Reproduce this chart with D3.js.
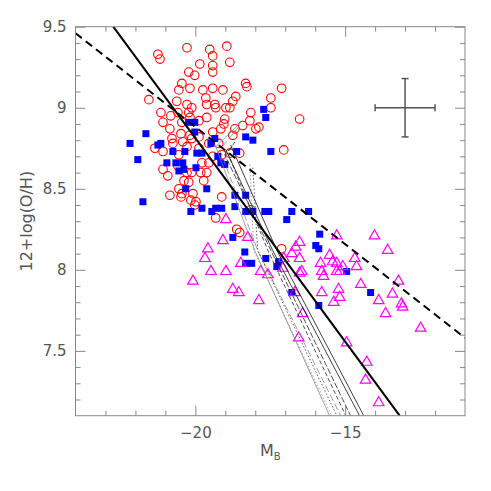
<!DOCTYPE html>
<html>
<head>
<meta charset="utf-8">
<script src="https://cdn.jsdelivr.net/npm/d3@7"></script>
<style>
  html, body { margin: 0; padding: 0; background: #fff; }
  text { font-family: "DejaVu Sans", sans-serif; fill: #555; }
</style>
</head>
<body>
<div id="chart"></div>
<script>

// red open circles  [M_B, 12+log(O/H)]
const circleData = [
  [-21.25, 9.33], [-21.18, 9.30], [-20.28, 9.37], [-19.52, 9.36], [-18.95, 9.38],
  [-19.42, 9.32], [-19.85, 9.27], [-18.85, 9.28], [-20.22, 9.22], [-19.42, 9.26],
  [-19.42, 9.22], [-20.02, 9.20], [-20.45, 9.15], [-20.55, 9.11], [-20.18, 9.12],
  [-19.75, 9.11], [-19.42, 9.12], [-19.08, 9.11], [-18.32, 9.15], [-18.28, 9.13],
  [-21.55, 9.05], [-20.62, 9.04], [-19.65, 9.06], [-18.65, 9.07], [-18.75, 9.04],
  [-19.35, 9.02], [-19.32, 9.00], [-19.62, 9.02], [-20.28, 9.02], [-20.12, 9.00],
  [-18.98, 9.00], [-18.85, 9.00], [-18.15, 8.97], [-21.15, 8.97], [-20.82, 8.95],
  [-20.58, 8.97], [-20.22, 8.97], [-20.18, 8.94], [-19.88, 8.92], [-19.62, 8.94],
  [-19.02, 8.93], [-21.08, 8.91], [-20.85, 8.87], [-20.45, 8.91], [-19.05, 8.90],
  [-18.68, 8.87], [-20.48, 8.84], [-20.18, 8.83], [-20.78, 8.81], [-19.42, 8.85],
  [-19.15, 8.87], [-18.42, 8.89], [-18.75, 8.83], [-20.75, 8.78], [-20.42, 8.79],
  [-20.12, 8.81], [-19.88, 8.82], [-20.28, 8.76], [-21.35, 8.75], [-21.08, 8.73],
  [-20.55, 8.71], [-19.88, 8.75], [-19.55, 8.78], [-19.22, 8.78], [-19.12, 8.71],
  [-18.85, 8.72], [-18.52, 8.72], [-19.78, 8.66], [-19.55, 8.66], [-20.58, 8.64],
  [-20.28, 8.60], [-20.12, 8.60], [-19.82, 8.60], [-19.62, 8.60], [-21.08, 8.62],
  [-20.92, 8.58], [-20.38, 8.55], [-20.22, 8.54], [-20.55, 8.50], [-20.85, 8.46],
  [-20.45, 8.47], [-20.48, 8.45], [-20.08, 8.47], [-20.15, 8.43], [-19.98, 8.42],
  [-20.02, 8.40], [-19.12, 8.45], [-19.32, 8.32], [-18.62, 8.25], [-18.52, 8.23],
  [-18.18, 8.92], [-17.98, 8.87], [-17.88, 8.88], [-17.12, 9.12], [-17.48, 9.06],
  [-17.48, 9.00], [-16.52, 8.93], [-17.05, 8.74], [-18.15, 8.37], [-17.12, 8.13],
  [-19.72, 8.55], [-19.42, 8.70]
];

// blue filled squares
const squareData = [
  [-22.18, 8.78], [-21.92, 8.68], [-21.65, 8.84], [-21.25, 8.77], [-21.15, 8.78],
  [-20.95, 8.66], [-20.75, 8.73], [-20.65, 8.66], [-20.42, 8.66], [-20.55, 8.61],
  [-20.38, 8.62], [-20.35, 8.73], [-20.22, 8.91], [-20.02, 8.91], [-20.02, 8.85],
  [-19.95, 8.72], [-19.78, 8.72], [-19.98, 8.63], [-19.62, 8.50], [-20.32, 8.50],
  [-20.15, 8.36], [-19.78, 8.38], [-19.45, 8.36], [-19.32, 8.38], [-19.12, 8.38],
  [-21.75, 8.42], [-19.48, 8.78], [-19.35, 8.81], [-19.25, 8.70], [-19.02, 8.65],
  [-18.62, 8.73], [-18.32, 8.82], [-18.75, 8.20], [-18.68, 8.39], [-18.68, 8.46],
  [-18.32, 8.46], [-18.32, 8.36], [-18.32, 8.04], [-17.72, 8.99], [-17.65, 8.94],
  [-18.08, 8.80], [-17.48, 8.73], [-18.08, 8.36], [-17.68, 8.36], [-17.55, 8.36],
  [-16.78, 8.36], [-16.95, 8.31], [-16.22, 8.36], [-15.85, 8.22], [-15.98, 8.15],
  [-15.88, 8.13], [-18.12, 8.04], [-17.65, 8.07], [-17.22, 8.05], [-17.28, 8.02],
  [-16.78, 7.86], [-15.88, 7.78], [-14.95, 7.99], [-14.15, 7.86], [-19.15, 8.66],
  [-18.35, 8.11]
];

// magenta open triangles
const triangleData = [
  [-18.98, 8.31], [-19.08, 8.18], [-19.58, 8.13], [-18.25, 8.20], [-19.68, 8.07],
  [-19.48, 7.99], [-20.08, 7.93], [-18.98, 7.99], [-18.75, 7.88], [-18.55, 7.86],
  [-18.48, 8.04], [-16.52, 8.17], [-16.65, 8.14], [-15.28, 8.21], [-14.02, 8.21],
  [-13.58, 8.12], [-16.78, 8.10], [-16.52, 8.07], [-16.45, 7.99], [-16.52, 7.98],
  [-17.05, 8.07], [-17.08, 8.01], [-17.58, 7.97], [-17.82, 7.99], [-17.88, 7.81],
  [-16.68, 7.86], [-16.42, 7.73], [-16.55, 7.58], [-15.52, 8.09], [-15.82, 8.04],
  [-15.78, 7.99], [-15.72, 7.96], [-15.42, 8.05], [-15.28, 8.04], [-15.08, 8.02],
  [-15.28, 7.99], [-15.18, 7.99], [-14.68, 8.07], [-14.62, 8.02], [-15.78, 7.86],
  [-15.22, 7.88], [-15.18, 7.83], [-15.38, 7.80], [-14.95, 7.55], [-14.48, 7.91],
  [-13.88, 7.81], [-13.65, 7.73], [-13.42, 7.85], [-13.12, 7.79], [-13.08, 7.77],
  [-13.22, 7.93], [-12.48, 7.64], [-14.28, 7.43], [-14.32, 7.32], [-13.88, 7.18]
];

// fitted relations
const thickSolidLine = [[-22.74, 9.5], [-13.18, 7.1]];
const thickDashedLine = [[-24, 9.46], [-11, 7.58]];

// thin model tracks
const trackLines = [
  [[-18.42, 8.92], [-19.32, 8.76], [-18.02, 8.12], [-15.52, 7.10]],
  [[-18.52, 8.89], [-19.18, 8.74], [-17.92, 8.12], [-15.15, 7.10]],
  [[-18.18, 8.65], [-18.05, 8.12], [-15.45, 7.10]],
  [[-18.08, 8.63], [-17.92, 8.12], [-15.28, 7.10]],
  [[-18.68, 8.79], [-18.92, 8.72], [-17.58, 8.12], [-14.98, 7.10]],
  [[-18.78, 8.76], [-19.02, 8.71], [-17.48, 8.12], [-14.82, 7.10]],
  [[-18.98, 8.74], [-17.42, 8.12], [-14.52, 7.10]],
  [[-18.82, 8.77], [-17.28, 8.12], [-14.38, 7.10]]
];
const trackColors = ["#888", "#888", "#888", "#333", "#222", "#222", "#111", "#111"];
const trackDashes = [null, "7,3", "1.5,2", "1.5,2", "4,2.5", "6,2", null, null];

// typical error bar
const errCenter = [-13, 9.0];
const errX = 1.0;
const errY = 0.18;

const xTicksMajor = [-20, -15];
const yTicksMajor = [7.5, 8, 8.5, 9, 9.5];

let W = 491, H = 491;
let mLeft = 75.5, mRight = 465, mTop = 26.7, mBottom = 415.7;

let svg = d3.select("#chart").append("svg")
  .attr("width", W)
  .attr("height", H);

let x = d3.scaleLinear().domain([-24, -11]).range([mLeft, mRight]);
let y = d3.scaleLinear().domain([7.1, 9.5]).range([mBottom, mTop]);

svg.append("defs").append("clipPath").attr("id", "clip")
  .append("rect")
  .attr("x", mLeft).attr("y", mTop)
  .attr("width", mRight - mLeft).attr("height", mBottom - mTop);

let plot = svg.append("g").attr("clip-path", "url(#clip)");

// circles
plot.selectAll("circle.pt").data(circleData).enter()
  .append("circle")
  .attr("class", "pt")
  .attr("cx", d => x(d[0]))
  .attr("cy", d => y(d[1]))
  .attr("r", 4.3)
  .attr("fill", "none")
  .attr("stroke", "#ff0000")
  .attr("stroke-width", 1.1);

// squares
let sq = 7;
plot.selectAll("rect.pt").data(squareData).enter()
  .append("rect")
  .attr("class", "pt")
  .attr("x", d => x(d[0]) - sq / 2)
  .attr("y", d => y(d[1]) - sq / 2)
  .attr("width", sq)
  .attr("height", sq)
  .attr("fill", "#0000ff");

// triangles
let tri = d3.symbol().type(d3.symbolTriangle).size(48);
plot.selectAll("path.tri").data(triangleData).enter()
  .append("path")
  .attr("class", "tri")
  .attr("d", tri)
  .attr("transform", d => `translate(${x(d[0])},${y(d[1])})`)
  .attr("fill", "none")
  .attr("stroke", "#ff00ff")
  .attr("stroke-width", 1.2);

let line = d3.line().x(d => x(d[0])).y(d => y(d[1]));

// model tracks
trackLines.forEach((t, i) => {
  plot.append("path")
    .attr("d", line(t))
    .attr("fill", "none")
    .attr("stroke", trackColors[i])
    .attr("stroke-width", 0.8)
    .attr("stroke-dasharray", trackDashes[i]);
});

// thick fits
plot.append("path")
  .attr("d", line(thickSolidLine))
  .attr("fill", "none")
  .attr("stroke", "#000")
  .attr("stroke-width", 2);

plot.append("path")
  .attr("d", line(thickDashedLine))
  .attr("fill", "none")
  .attr("stroke", "#000")
  .attr("stroke-width", 2)
  .attr("stroke-dasharray", "8,5");

// error cross
let eg = svg.append("g").attr("stroke", "#555").attr("stroke-width", 1.5);
let ex = x(errCenter[0]), ey = y(errCenter[1]);
let cap = 3.5;
eg.append("line").attr("x1", x(errCenter[0] - errX)).attr("x2", x(errCenter[0] + errX)).attr("y1", ey).attr("y2", ey);
eg.append("line").attr("x1", ex).attr("x2", ex).attr("y1", y(errCenter[1] - errY)).attr("y2", y(errCenter[1] + errY));
eg.append("line").attr("x1", x(errCenter[0] - errX)).attr("x2", x(errCenter[0] - errX)).attr("y1", ey - cap).attr("y2", ey + cap);
eg.append("line").attr("x1", x(errCenter[0] + errX)).attr("x2", x(errCenter[0] + errX)).attr("y1", ey - cap).attr("y2", ey + cap);
eg.append("line").attr("x1", ex - cap).attr("x2", ex + cap).attr("y1", y(errCenter[1] - errY)).attr("y2", y(errCenter[1] - errY));
eg.append("line").attr("x1", ex - cap).attr("x2", ex + cap).attr("y1", y(errCenter[1] + errY)).attr("y2", y(errCenter[1] + errY));

// axes: ticks pointing inward on all four sides
let xMinor = d3.range(-23, -11, 1).filter(v => !xTicksMajor.includes(v));
let yMinor = d3.range(7.2, 9.45, 0.1).map(v => +v.toFixed(1)).filter(v => !yTicksMajor.includes(v));

function styleAxis(g) {
  g.select(".domain").remove();
  g.selectAll("line").attr("stroke", "#888");
  g.selectAll("text").style("font-size", "15px").attr("fill", "#555");
}

let fmt = d => d3.format("")(d).replace("-", "\u2212");

svg.append("g").attr("transform", `translate(0,${mBottom})`)
  .call(d3.axisBottom(x).tickValues(xMinor).tickSize(-5).tickFormat(""))
  .call(styleAxis);
svg.append("g").attr("transform", `translate(0,${mBottom})`)
  .call(d3.axisBottom(x).tickValues(xTicksMajor).tickSize(-10).tickPadding(12).tickFormat(fmt))
  .call(styleAxis);
svg.append("g").attr("transform", `translate(0,${mTop})`)
  .call(d3.axisTop(x).tickValues(xMinor).tickSize(-5).tickFormat(""))
  .call(styleAxis);
svg.append("g").attr("transform", `translate(0,${mTop})`)
  .call(d3.axisTop(x).tickValues(xTicksMajor).tickSize(-10).tickFormat(""))
  .call(styleAxis);

svg.append("g").attr("transform", `translate(${mLeft},0)`)
  .call(d3.axisLeft(y).tickValues(yMinor).tickSize(-5).tickFormat(""))
  .call(styleAxis);
svg.append("g").attr("transform", `translate(${mLeft},0)`)
  .call(d3.axisLeft(y).tickValues(yTicksMajor).tickSize(-10).tickPadding(9).tickFormat(d => d3.format("")(d)))
  .call(styleAxis);
svg.append("g").attr("transform", `translate(${mRight},0)`)
  .call(d3.axisRight(y).tickValues(yMinor).tickSize(-5).tickFormat(""))
  .call(styleAxis);
svg.append("g").attr("transform", `translate(${mRight},0)`)
  .call(d3.axisRight(y).tickValues(yTicksMajor).tickSize(-10).tickFormat(""))
  .call(styleAxis);

// frame
svg.append("rect")
  .attr("x", mLeft).attr("y", mTop)
  .attr("width", mRight - mLeft).attr("height", mBottom - mTop)
  .attr("fill", "none")
  .attr("stroke", "#888")
  .attr("stroke-width", 1);

// axis titles
svg.append("text")
  .attr("transform", `translate(32,${(mTop + mBottom) / 2}) rotate(-90)`)
  .attr("text-anchor", "middle")
  .style("font-size", "16px")
  .text("12+log(O/H)");

let xl = svg.append("text")
  .attr("x", (mLeft + mRight) / 2)
  .attr("y", 456)
  .attr("text-anchor", "middle")
  .style("font-size", "16px");
xl.append("tspan").text("M");
xl.append("tspan").attr("dy", 4).style("font-size", "10px").text("B");

</script>
</body>
</html>
